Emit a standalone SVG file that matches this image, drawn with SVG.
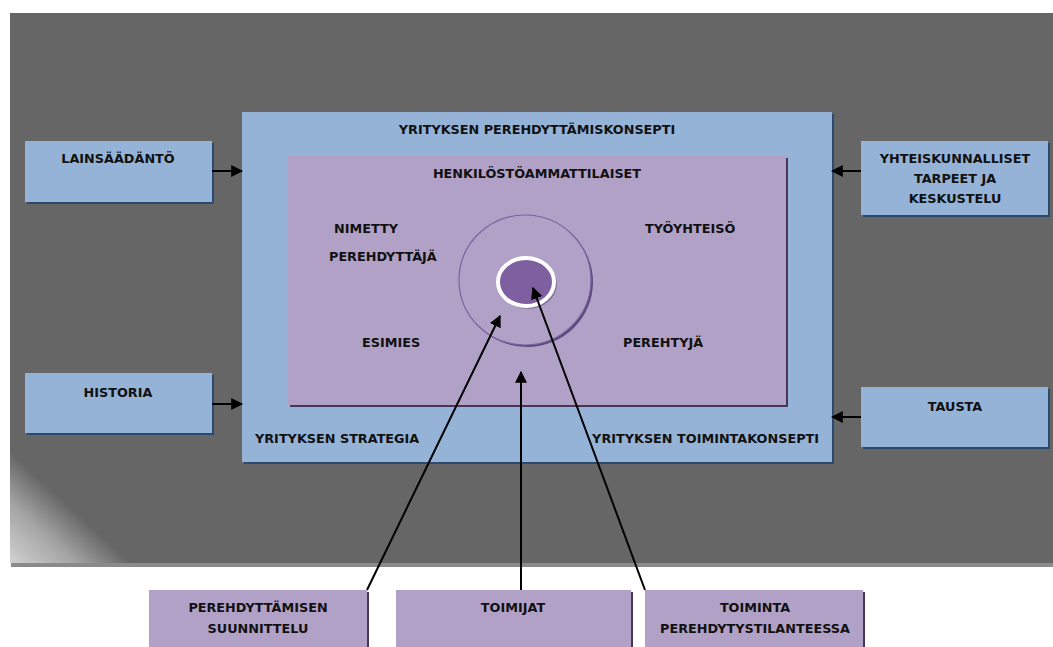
<svg xmlns="http://www.w3.org/2000/svg" width="1053" height="647" viewBox="0 0 1053 647">
  <defs>
    <style>
      text { font-family: "DejaVu Sans", "Liberation Sans", sans-serif; font-weight: bold; font-size: 12.8px; fill: #111; }
      .c { text-anchor: middle; }
      .blue { fill: #95b3d7; }
      .purple { fill: #b2a1c7; }
      .bshadow { fill: #2c4a70; }
      .pshadow { fill: #463758; }
      .conn { stroke: #000; stroke-width: 2; fill: none; }
    </style>
    <linearGradient id="cornerGlow" gradientUnits="userSpaceOnUse" x1="10" y1="564" x2="66" y2="503">
      <stop offset="0" stop-color="#d2d2d2"/>
      <stop offset="0.55" stop-color="#a4a4a4"/>
      <stop offset="1" stop-color="#666666"/>
    </linearGradient>
    <marker id="arrow" viewBox="0 0 10 10" refX="9" refY="5" markerWidth="6" markerHeight="6" orient="auto" markerUnits="strokeWidth">
      <path d="M0,0 L10,5 L0,10 z" fill="#000"/>
    </marker>
  </defs>

  <!-- backdrop panel -->
  <g id="backdrop">
    <rect x="11" y="15" width="1042" height="552" fill="#8a8a8a"/>
    <rect x="10" y="13" width="1043" height="550" fill="#666666"/>
    <polygon points="10,440 10,563 140,563" fill="url(#cornerGlow)"/>
  </g>

  <!-- company induction concept frame -->
  <g id="concept">
    <rect x="244" y="114" width="590" height="350" class="bshadow"/>
    <rect x="242" y="112" width="590" height="350" class="blue"/>
    <text x="537" y="134" class="c">YRITYKSEN PEREHDYTTÄMISKONSEPTI</text>
    <text x="255" y="443">YRITYKSEN STRATEGIA</text>
    <text x="819" y="443" text-anchor="end">YRITYKSEN TOIMINTAKONSEPTI</text>
  </g>

  <!-- HR professionals area -->
  <g id="hr">
    <rect x="290" y="158" width="498" height="249" class="pshadow"/>
    <rect x="288" y="156" width="498" height="249" class="purple"/>
    <text x="537" y="178" class="c">HENKILÖSTÖAMMATTILAISET</text>
    <text x="334" y="233">NIMETTY</text>
    <text x="329" y="261">PEREHDYTTÄJÄ</text>
    <text x="645" y="233">TYÖYHTEISÖ</text>
    <text x="362" y="347">ESIMIES</text>
    <text x="623" y="347">PEREHTYJÄ</text>
  </g>

  <!-- target rings -->
  <g id="rings">
    <ellipse cx="527" cy="282" rx="66" ry="65" fill="#5d477a"/>
    <ellipse cx="525" cy="280" rx="66" ry="65" fill="#b2a1c7" stroke="#7a62a0" stroke-width="1.2"/>
    <ellipse cx="528" cy="284" rx="29" ry="25" fill="#6b5684" opacity="0.6"/>
    <ellipse cx="526" cy="282" rx="28" ry="24" fill="#7e5fa0" stroke="#ffffff" stroke-width="4"/>
  </g>

  <g id="lainsaadanto">
    <rect x="27" y="143" width="187" height="61" class="bshadow"/>
    <rect x="25" y="141" width="187" height="61" class="blue"/>
    <text x="118" y="163" class="c">LAINSÄÄDÄNTÖ</text>
  </g>

  <g id="historia">
    <rect x="27" y="375" width="187" height="60" class="bshadow"/>
    <rect x="25" y="373" width="187" height="60" class="blue"/>
    <text x="118" y="397" class="c">HISTORIA</text>
  </g>

  <g id="yhteiskunnalliset">
    <rect x="863" y="143" width="187" height="74" class="bshadow"/>
    <rect x="861" y="141" width="187" height="74" class="blue"/>
    <text x="955" y="163" class="c">YHTEISKUNNALLISET</text>
    <text x="955" y="183" class="c">TARPEET JA</text>
    <text x="955" y="203" class="c">KESKUSTELU</text>
  </g>

  <g id="tausta">
    <rect x="863" y="389" width="187" height="60" class="bshadow"/>
    <rect x="861" y="387" width="187" height="60" class="blue"/>
    <text x="955" y="411" class="c">TAUSTA</text>
  </g>

  <g id="suunnittelu">
    <rect x="151" y="592" width="218" height="57" class="pshadow"/>
    <rect x="149" y="590" width="218" height="57" class="purple"/>
    <text x="258" y="612" class="c">PEREHDYTTÄMISEN</text>
    <text x="258" y="633" class="c">SUUNNITTELU</text>
  </g>

  <g id="toimijat">
    <rect x="398" y="592" width="235" height="57" class="pshadow"/>
    <rect x="396" y="590" width="235" height="57" class="purple"/>
    <text x="513" y="612" class="c">TOIMIJAT</text>
  </g>

  <g id="toiminta">
    <rect x="647" y="592" width="218" height="57" class="pshadow"/>
    <rect x="645" y="590" width="218" height="57" class="purple"/>
    <text x="755" y="612" class="c">TOIMINTA</text>
    <text x="755" y="633" class="c">PEREHDYTYSTILANTEESSA</text>
  </g>

  <!-- connectors -->
  <g id="connectors">
    <line x1="212" y1="171" x2="242" y2="171" class="conn" marker-end="url(#arrow)"/>
    <line x1="212" y1="404" x2="242" y2="404" class="conn" marker-end="url(#arrow)"/>
    <line x1="861" y1="171" x2="832" y2="171" class="conn" marker-end="url(#arrow)"/>
    <line x1="861" y1="417" x2="832" y2="417" class="conn" marker-end="url(#arrow)"/>
    <line x1="367" y1="590" x2="500" y2="316" class="conn" marker-end="url(#arrow)"/>
    <line x1="521" y1="590" x2="521" y2="372" class="conn" marker-end="url(#arrow)"/>
    <line x1="645" y1="590" x2="533" y2="288" class="conn" marker-end="url(#arrow)"/>
  </g>
</svg>
